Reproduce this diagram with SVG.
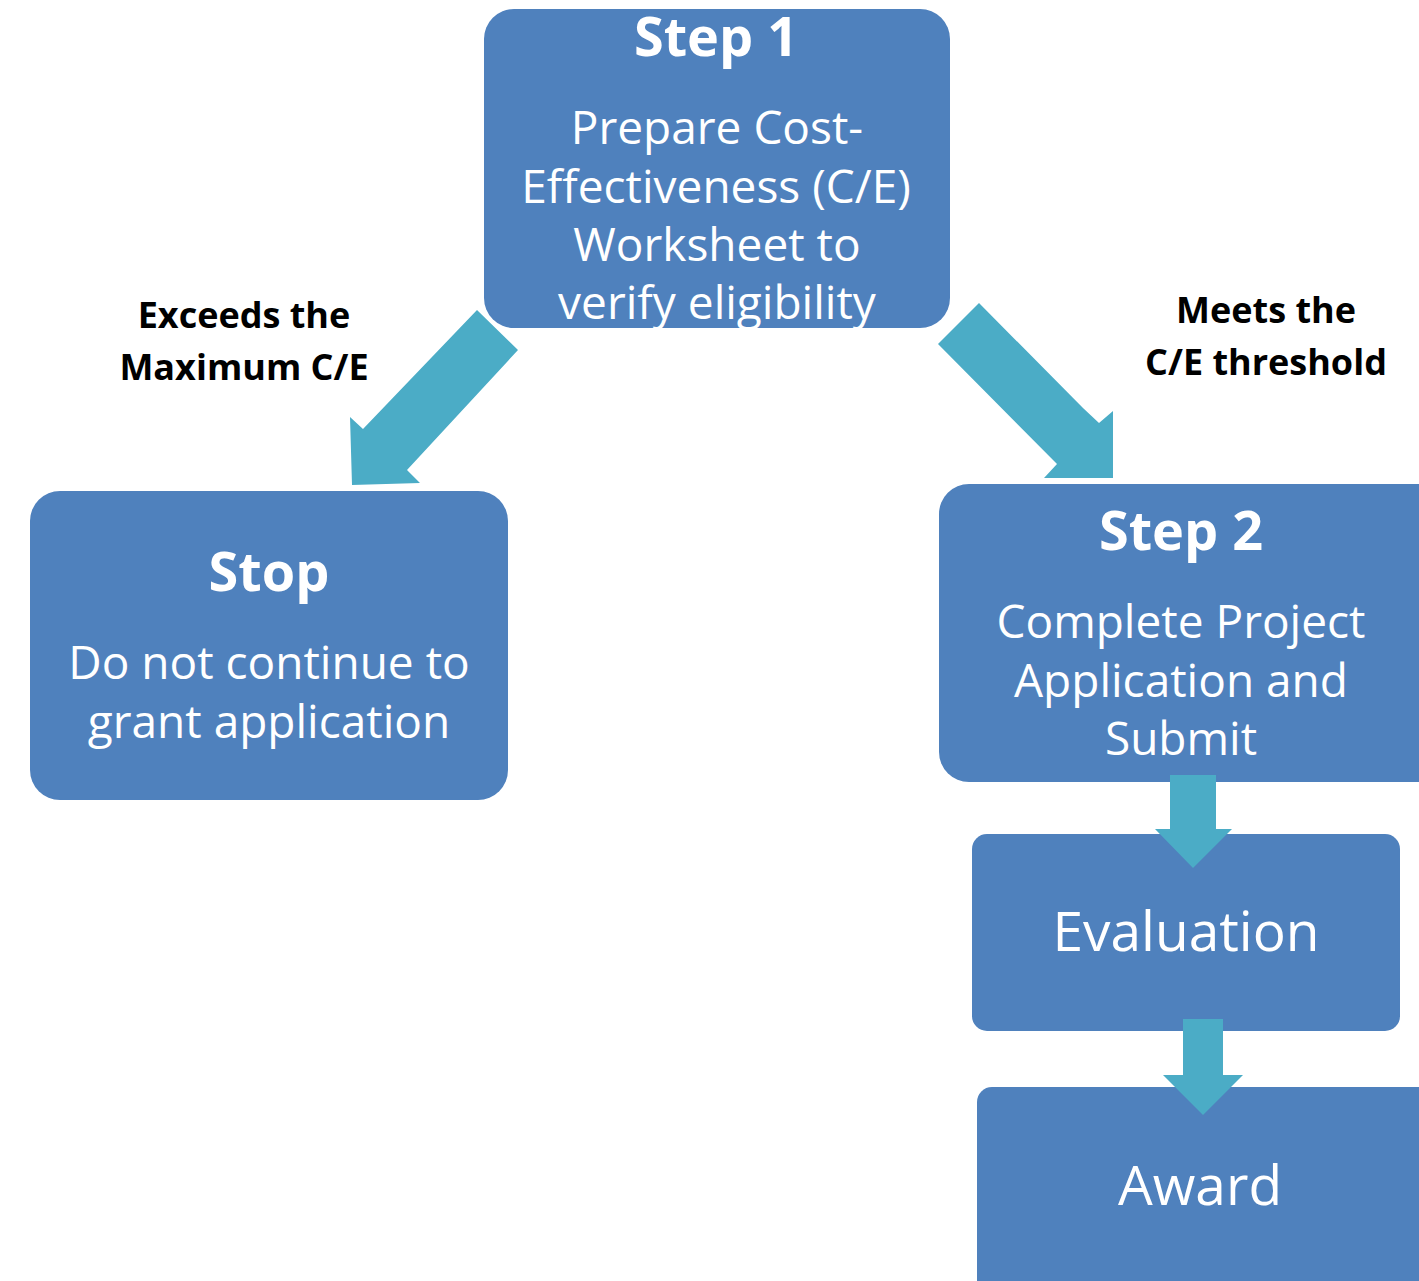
<svg xmlns="http://www.w3.org/2000/svg" width="1419" height="1281" viewBox="0 0 1419 1281">
<style>
.box{fill:#4F81BD;}
.arr{fill:#4BACC6;}
.t{font-family:"Open Sans","Liberation Sans",sans-serif;fill:#FFFFFF;text-anchor:middle;}
.h{font-weight:bold;font-size:54px;}
.b{font-size:46px;}
.big{font-size:55px;}
.lbl{font-family:"Open Sans","Liberation Sans",sans-serif;font-weight:bold;font-size:36px;fill:#000000;text-anchor:middle;}
</style>
<rect width="1419" height="1281" fill="#FFFFFF"/>
<g id="connectors-diagonal">
<polygon class="arr" points="477,310 518,350 407,470 420,483 352,485 350,417 363,429"/>
<polygon class="arr" points="979,303 1083,408 1099,423 1113,411 1113,478 1044,478 1057,464 938,344"/>
</g>
<g id="step1">
<rect class="box" x="484" y="9" width="466" height="319" rx="30"/>
<text class="t h" x="716" y="56">Step 1</text>
<text class="t b" x="717" y="144">Prepare Cost-</text>
<text class="t b" x="716" y="203">Effectiveness (C/E)</text>
<text class="t b" x="717" y="261">Worksheet to</text>
<text class="t b" x="717" y="319">verify eligibility</text>
</g>
<g id="stop">
<rect class="box" x="30" y="491" width="478" height="309" rx="30"/>
<text class="t h" x="269" y="591">Stop</text>
<text class="t b" x="269" y="679">Do not continue to</text>
<text class="t b" x="269" y="738">grant application</text>
</g>
<g id="step2">
<rect class="box" x="939" y="484" width="510" height="298" rx="30"/>
<text class="t h" x="1181" y="550">Step 2</text>
<text class="t b" x="1181" y="638">Complete Project</text>
<text class="t b" x="1181" y="697">Application and</text>
<text class="t b" x="1181" y="755">Submit</text>
</g>
<g id="evaluation">
<rect class="box" x="972" y="834" width="428" height="197" rx="15"/>
<text class="t big" x="1186" y="951">Evaluation</text>
</g>
<g id="award">
<rect class="box" x="977" y="1087" width="470" height="220" rx="15"/>
<text class="t big" x="1200" y="1205">Award</text>
</g>
<g id="connectors">
<polygon class="arr" points="1170,775 1216,775 1216,829 1232,829 1193,868 1155,829 1170,829"/>
<polygon class="arr" points="1183,1019 1223,1019 1223,1075 1243,1075 1203,1115 1163,1075 1183,1075"/>
</g>
<g id="labels">
<text class="lbl" x="244" y="328">Exceeds the</text>
<text class="lbl" x="244" y="380">Maximum C/E</text>
<text class="lbl" x="1266" y="323">Meets the</text>
<text class="lbl" x="1266" y="375">C/E threshold</text>
</g>
</svg>
